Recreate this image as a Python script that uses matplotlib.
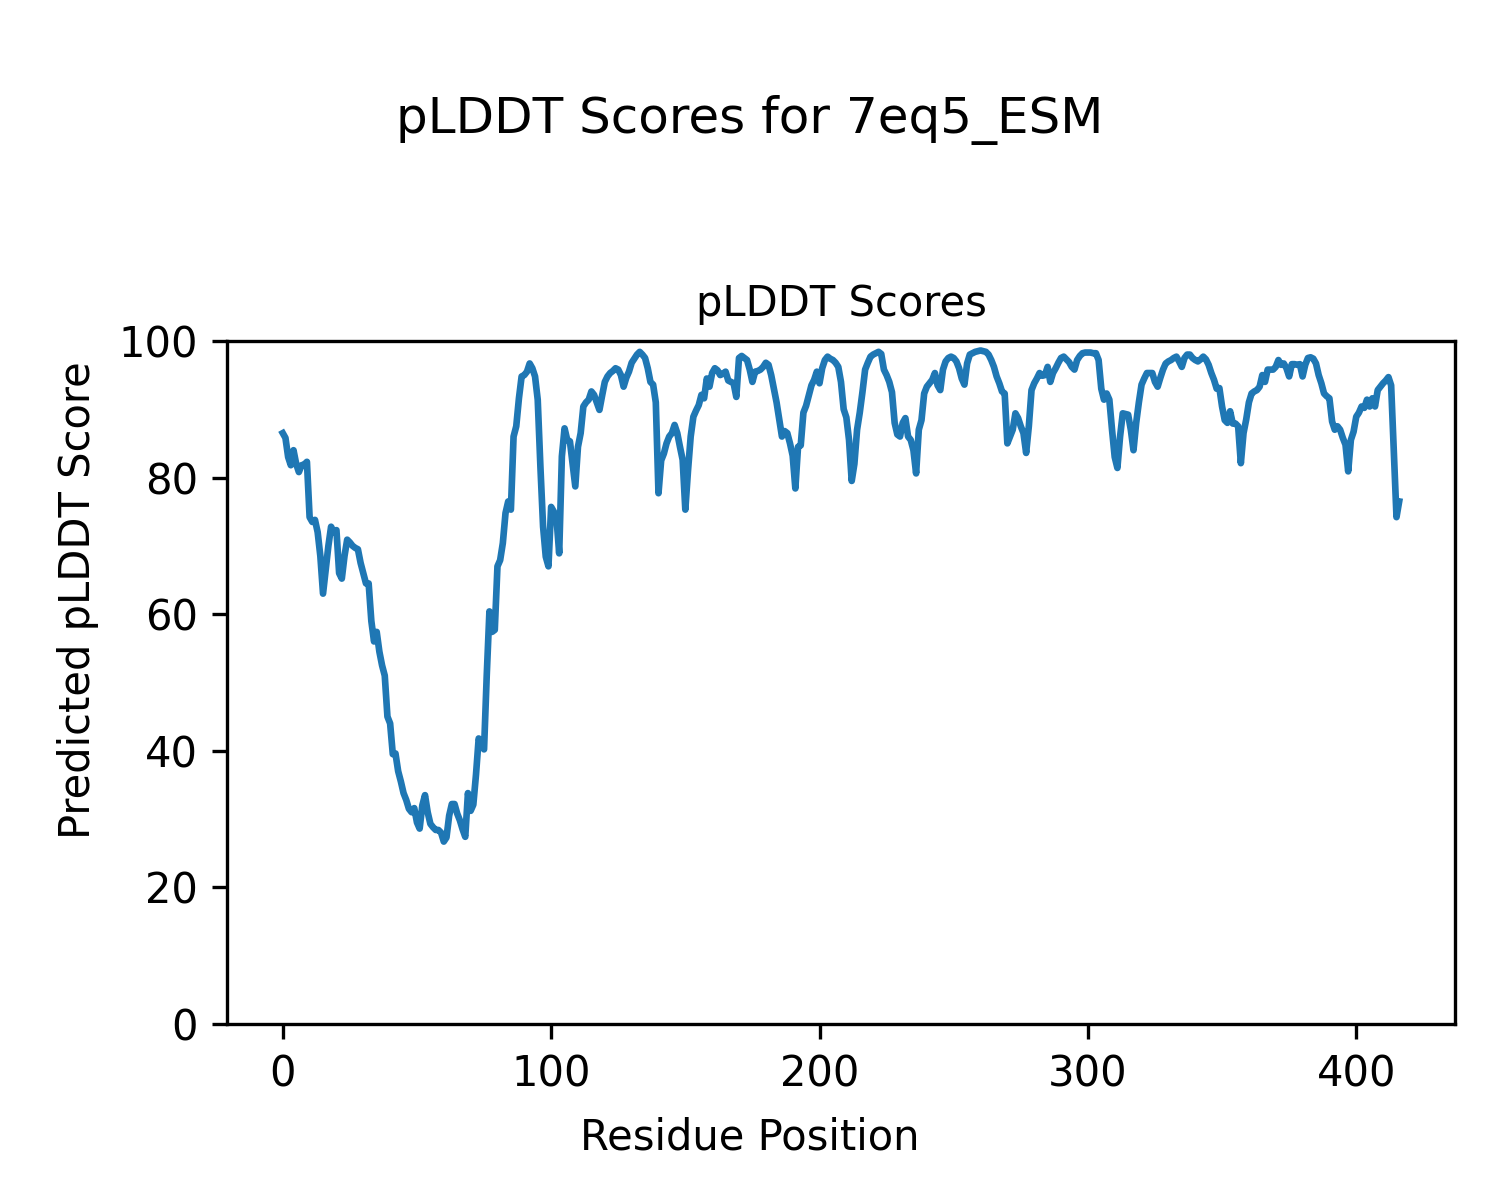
import matplotlib
matplotlib.use("Agg")
import matplotlib.pyplot as plt
import numpy as np

# pLDDT per residue
plddt = [
    86.5, 85.8, 83.0, 81.8, 84.0, 82.0, 80.8, 81.8, 81.9, 82.3,
    74.2, 73.5, 73.8, 72.0, 68.5, 63.0, 66.5, 70.0, 72.8, 72.0,
    72.3, 66.0, 65.2, 68.5, 70.9, 70.5, 70.0, 69.7, 69.5, 67.5,
    66.0, 64.5, 64.5, 59.0, 56.0, 57.4, 54.5, 52.5, 51.0, 45.0,
    44.0, 39.5, 39.6, 37.0, 35.5, 33.8, 32.8, 31.5, 31.0, 31.6,
    29.5, 28.6, 32.0, 33.5, 31.0, 29.3, 28.8, 28.4, 28.4, 28.0,
    26.7, 27.3, 30.5, 32.2, 32.2, 30.8, 29.8, 28.5, 27.4, 33.8,
    31.2, 32.1, 36.5, 41.8, 40.8, 40.2, 51.0, 60.4, 57.4, 57.7,
    67.0, 67.9, 70.4, 74.8, 76.5, 75.3, 86.0, 87.5, 91.6, 94.8,
    95.0, 95.5, 96.7, 96.0, 94.8, 91.4, 81.6, 72.8, 68.4, 67.0,
    75.7, 75.0, 74.0, 68.9, 83.1, 87.2, 85.5, 85.3, 82.0, 78.7,
    84.5, 86.5, 90.4, 91.0, 91.4, 92.6, 92.1, 91.0, 89.9, 92.0,
    94.0, 94.8, 95.3, 95.6, 96.0, 95.8, 95.0, 93.3, 94.6, 95.5,
    96.8, 97.4, 98.0, 98.4, 98.0, 97.5, 96.0, 94.0, 93.6, 91.0,
    77.7, 82.5, 83.5, 85.0, 86.0, 86.5, 87.7, 86.5, 84.5, 82.6,
    75.3, 81.0, 86.0, 88.9, 89.8, 90.6, 92.1, 91.6, 94.5, 93.3,
    95.3, 96.0, 95.7, 95.0, 95.2, 95.5, 94.2, 94.0, 93.8, 91.8,
    97.5, 97.8, 97.5, 97.2, 95.8, 94.0, 95.5, 95.6, 95.8, 96.2,
    96.8, 96.5, 95.0, 93.0, 91.0, 88.5, 86.0, 86.8, 86.5, 85.0,
    83.2, 78.4, 84.5, 84.7, 89.5, 90.5, 92.0, 93.5, 94.3, 95.5,
    93.8, 96.0, 97.2, 97.7, 97.4, 97.2, 96.8, 96.2, 94.0, 90.0,
    88.8, 85.5, 79.5, 82.0, 87.0, 89.5, 92.5, 95.8, 96.8, 97.7,
    98.0, 98.2, 98.4, 98.1, 95.8, 95.0, 94.0, 92.5, 88.0, 86.3,
    86.0, 88.0, 88.7, 86.0, 85.5, 84.0, 80.6, 87.0, 88.4, 92.3,
    93.3, 93.8, 94.3, 95.3, 93.5, 92.8, 95.8, 97.0, 97.5, 97.7,
    97.5, 97.0, 96.0, 94.5, 93.6, 96.7, 98.0, 98.2, 98.4, 98.5,
    98.6, 98.5, 98.4, 98.0, 97.2, 96.2, 94.8, 93.8, 92.6, 92.3,
    85.0, 86.0, 87.0, 89.4, 88.7, 87.5, 86.5, 83.6, 87.5, 92.8,
    93.8, 94.5, 95.3, 94.9, 95.0, 96.2, 94.0, 95.3, 96.0, 96.8,
    97.5, 97.7, 97.3, 96.9, 96.2, 95.8, 97.2, 97.8, 98.2, 98.3,
    98.3, 98.3, 98.2, 98.2, 97.2, 93.0, 91.4, 92.3, 91.4, 87.0,
    83.0, 81.4, 86.0, 89.4, 89.3, 89.2, 87.0, 84.0, 88.0, 91.0,
    93.6, 94.5, 95.3, 95.3, 95.3, 94.0, 93.3, 94.6, 95.8, 96.7,
    97.0, 97.2, 97.5, 97.7, 97.0, 96.2, 97.5, 98.0, 98.0, 97.5,
    97.2, 97.0, 97.3, 97.7, 97.3, 96.5, 95.3, 94.3, 93.0, 93.1,
    90.4, 88.4, 88.0, 89.7, 87.9, 87.9, 87.5, 82.1, 86.5, 88.5,
    91.0, 92.3, 92.6, 92.8, 93.3, 95.0, 94.0, 95.8, 95.8, 95.8,
    96.2, 97.2, 96.5, 96.7, 96.0, 94.8, 96.6, 96.6, 96.5, 96.6,
    94.8, 96.5, 97.5, 97.6, 97.4, 96.7, 95.0, 93.8, 92.3, 91.9,
    91.6, 88.2, 87.0, 87.5, 87.0, 85.8, 84.8, 80.9, 85.5, 86.7,
    88.9, 89.5, 90.4, 90.2, 91.4, 90.4, 91.6, 90.4, 92.8, 93.3,
    93.8, 94.2, 94.7, 93.5, 84.0, 74.2, 76.5,
]
residues = np.arange(len(plddt))

fig = plt.figure(figsize=(5, 4), dpi=300)
ax = fig.add_axes([0.1513, 0.1467, 0.8187, 0.5692])

ax.plot(residues, plddt, color="#1f77b4", linewidth=1.6)
ax.set_ylim(0, 100)
ax.set_title("pLDDT Scores", fontsize=10)

# shared figure-level labels, centred on the figure rather than the axes
fig.supxlabel("Residue Position", y=0.0517, va="center", fontsize=10)
fig.supylabel("Predicted pLDDT Score", x=0.052, ha="center", fontsize=10)
fig.suptitle("pLDDT Scores for 7eq5_ESM", y=0.9, va="center", fontsize=12)

fig.savefig("out.png", dpi=300)
